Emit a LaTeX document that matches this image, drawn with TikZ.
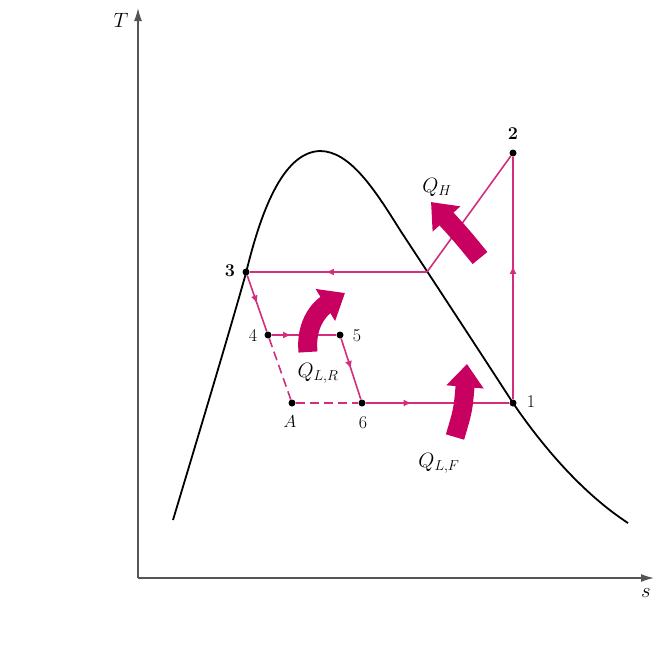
\documentclass[tikz,border=0pt]{standalone}
\usepackage{tikz}
\usetikzlibrary{arrows.meta,decorations.markings}
\definecolor{cycle}{RGB}{212,45,125}
\definecolor{heat}{RGB}{200,0,95}
\definecolor{axisgray}{RGB}{85,85,85}

\begin{document}
\begin{tikzpicture}[x=1pt,y=-1pt,
  every node/.style={font=\fontsize{18}{20}\selectfont},
  qlabel/.style={font=\fontsize{20}{22}\selectfont},
  pt/.style={circle,fill=black,inner sep=0pt,minimum size=7pt},
  ln/.style={draw=cycle,line width=1.6pt},
  midarr/.style={postaction={decorate},decoration={markings,mark=at position #1 with {\arrow{Latex[length=8pt,width=7pt]}}}},
  midarr/.default=0.5,
  heatarr/.style={draw=heat,line width=19pt,-{Triangle[width=36pt,length=23pt]}},
  axisln/.style={draw=axisgray,line width=1.4pt,-{Latex[length=13pt,width=8pt]}}
]
\useasboundingbox (0,0) rectangle (663,662);
% axes
\coordinate (o) at (138,578);
\coordinate (tend) at (138,8);
\coordinate (send) at (654,578);
\draw[axisln] (o) -- (tend);
\draw[axisln] (o) -- (send);
\node[qlabel] (tl) at (121,20) {$T$};
\node[qlabel] (sl) at (646,593) {$s$};
% saturation dome
\draw[line width=1.8pt] (173,520) .. controls (200,430) and (230,330) .. (246,273)
  .. controls (260,215) and (282,152) .. (320,151)
  .. controls (350,151) and (375,190) .. (400,230)
  .. controls (440,291) and (480,352) .. (513,403)
  .. controls (545,450) and (585,495) .. (628,523);
% state points
\node[pt] (p1) at (513,403) {};
\node[pt] (p2) at (513,153) {};
\node[pt] (p3) at (246,272) {};
\node[pt] (p4) at (268,335) {};
\node[pt] (p5) at (340,335) {};
\node[pt] (p6) at (362,403) {};
\node[pt] (pA) at (292,403) {};
\coordinate (k) at (427,272);
% cycle
\draw[ln,midarr=0.55] (p1) -- (p2);
\draw[ln] (p2) -- (k);
\draw[ln,midarr=0.57] (k) -- (p3);
\draw[ln,midarr=0.5] (p3) -- (p4);
\draw[ln,midarr=0.3] (p4) -- (p5);
\draw[ln,midarr=0.5] (p5) -- (p6);
\draw[ln,midarr=0.32] (p6) -- (p1);
\draw[ln,dashed,dash pattern=on 9pt off 5pt] (p4) -- (pA);
\draw[ln,dashed,dash pattern=on 9pt off 5pt] (pA) -- (p6);
% heat transfer arrows
\coordinate (qh0) at (480,258);
\coordinate (qh1) at (431,202);
\coordinate (qr0) at (308,352);
\coordinate (qr1) at (345,293);
\coordinate (qf0) at (455,437);
\coordinate (qf1) at (467,364);
\draw[heatarr] (qh0) .. controls (462,236) .. (qh1);
\draw[heatarr] (qr0) .. controls (305,322) and (322,307) .. (qr1);
\draw[heatarr] (qf0) .. controls (463,410) .. (qf1);
% labels
\node (l1) at (531,402) {1};
\node (l2) at (513,134) {\bfseries 2};
\node (l3) at (230,271) {\bfseries 3};
\node (l4) at (253,335) {4};
\node (l5) at (357,336) {5};
\node (l6) at (363,423) {6};
\node (lA) at (290,422) {$A$};
\node[qlabel] (lqh) at (437,187) {$Q_H$};
\node[qlabel] (lqr) at (318,373) {$Q_{L,R}$};
\node[qlabel] (lqf) at (439,463) {$Q_{L,F}$};
\end{tikzpicture}
\end{document}
